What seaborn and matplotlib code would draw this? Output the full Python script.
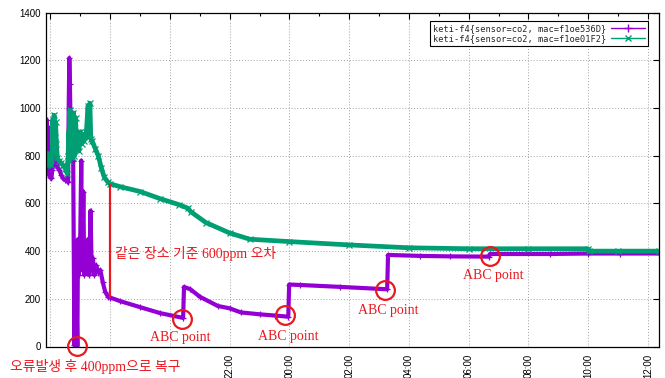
import pandas as pd
import matplotlib
matplotlib.use("Agg")
import matplotlib.pyplot as plt
import seaborn as sns
from matplotlib.lines import Line2D
from matplotlib.ticker import MultipleLocator, FuncFormatter

# Readings (time in hours from midnight of day 1, co2 in ppm)
purple_label = "keti-f4{sensor=co2, mac=f1oe536D}"
purple_time = [15.86, 15.88, 15.90, 15.92, 15.94, 15.96, 15.99, 16.03, 16.06, 16.09,
               16.11, 16.14, 16.17, 16.20, 16.24, 16.30, 16.36, 16.42, 16.48, 16.55,
               16.59, 16.61, 16.63, 16.65, 16.67, 16.71, 16.76, 16.80, 16.84, 16.90,
               16.92, 16.95, 16.99, 17.03, 17.06, 17.10, 17.13, 17.18, 17.22, 17.26,
               17.30, 17.34, 17.38, 17.42, 17.47, 17.53, 17.60, 17.67, 17.75, 17.83,
               17.93, 18.00, 18.34, 19.00, 19.67, 20.44, 20.47, 20.68, 21.01, 21.60,
               22.00, 22.37, 23.00, 23.50, 23.96, 23.99, 24.36, 25.70, 27.27, 27.30,
               28.37, 29.38, 30.68, 30.71, 32.72, 34.00, 35.06, 36.37]
purple_co2 = [800, 950, 760, 920, 740, 720, 710, 705, 740, 870,
              760, 800, 760, 780, 750, 740, 720, 705, 700, 695,
              690, 1000, 1210, 1100, 950, 980, 780, 5, 420, 0,
              450, 300, 400, 780, 320, 650, 300, 420, 310, 450,
              300, 570, 320, 370, 300, 340, 310, 320, 270, 230,
              208, 205, 190, 165, 140, 120, 250, 240, 208, 170,
              160, 143, 135, 130, 125, 260, 258, 250, 240, 384,
              380, 378, 377, 388, 388, 390, 390, 390]

green_label = "keti-f4{sensor=co2, mac=f1oe01F2}"
green_time = [15.86, 15.88, 15.91, 15.94, 15.98, 16.02, 16.06, 16.08, 16.10, 16.12,
              16.14, 16.17, 16.20, 16.23, 16.28, 16.35, 16.42, 16.50, 16.56, 16.59,
              16.61, 16.63, 16.65, 16.68, 16.71, 16.74, 16.77, 16.80, 16.84, 16.87,
              16.91, 16.95, 17.00, 17.04, 17.08, 17.12, 17.20, 17.26, 17.28, 17.32,
              17.35, 17.40, 17.50, 17.60, 17.70, 17.80, 17.92, 18.00, 18.34, 19.00,
              19.67, 20.30, 20.60, 20.70, 21.20, 22.00, 22.67, 24.00, 26.00, 28.00,
              30.00, 32.00, 33.99, 34.03, 35.00, 36.37]
green_co2 = [800, 760, 810, 770, 800, 760, 800, 950, 850, 970,
             880, 940, 850, 790, 780, 770, 760, 745, 725, 800,
             900, 780, 990, 800, 970, 790, 980, 800, 960, 850,
             900, 820, 900, 850, 890, 860, 900, 1010, 880, 1020,
             870, 860, 830, 800, 750, 710, 690, 682, 670, 650,
             620, 595, 580, 565, 520, 476, 450, 440, 426, 414,
             410, 410, 410, 400, 400, 400]

# Annotations
gap_time, gap_low, gap_high = 18.0, 205, 680
abc_time = [20.41, 23.86, 27.20, 30.71]
abc_co2 = [115, 132, 237, 380]
abc_text_time = [20.36, 23.96, 27.32, 30.83]
abc_text_co2 = [36, 40, 149, 296]
error_time, error_co2 = 16.90, 2
first_labelled_hour = 22  # earlier hour labels sit under the annotation text

purple = "#9400d3"
green = "#009e73"
red = "#e8191f"

df_p = pd.DataFrame({"time": purple_time, "co2": purple_co2})
df_g = pd.DataFrame({"time": green_time, "co2": green_co2})

sns.set_theme(style="white", context="paper")
plt.rcParams["font.family"] = ["Liberation Sans", "DejaVu Sans"]

fig, ax = plt.subplots(figsize=(6.65, 3.78), dpi=100)
fig.subplots_adjust(left=46 / 665, right=659 / 665, top=1 - 12.7 / 378, bottom=1 - 346.5 / 378)

sns.lineplot(data=df_p, x="time", y="co2", ax=ax, color=purple, linewidth=3.0,
             marker="+", markersize=5, markeredgewidth=0.9, markeredgecolor=purple,
             estimator=None, sort=False, legend=False)
sns.lineplot(data=df_g, x="time", y="co2", ax=ax, color=green, linewidth=3.4,
             marker="x", markersize=4, markeredgewidth=0.9, markeredgecolor=green,
             estimator=None, sort=False, legend=False)

ax.set_xlim(15.85, 36.37)
ax.set_ylim(0, 1400)
ax.set_xlabel("")
ax.set_ylabel("")


def hour_label(h, _):
    if h < first_labelled_hour - 0.5:
        return ""
    return f"{int(round(h)) % 24:02d}:00"


ax.xaxis.set_major_locator(MultipleLocator(2))
ax.xaxis.set_minor_locator(MultipleLocator(1))
ax.yaxis.set_major_locator(MultipleLocator(200))
ax.xaxis.set_major_formatter(FuncFormatter(hour_label))
ax.tick_params(which="both", direction="in", top=True, right=True, colors="black",
               labelsize=7)
ax.tick_params(which="major", length=4, width=0.8)
ax.tick_params(which="minor", length=2, width=0.8)
ax.tick_params(axis="x", labelrotation=90, pad=5)
ax.grid(True, which="major", linestyle=(0, (1, 2)), color="#a0a0a0", linewidth=0.7)
for s in ax.spines.values():
    s.set_color("black")
    s.set_linewidth(0.9)

# legend, gnuplot style: sample right of the text
handles = [Line2D([], [], color=purple, lw=1, marker="+", ms=6, mew=1),
           Line2D([], [], color=green, lw=1, marker="x", ms=4, mew=1)]
leg = ax.legend(handles, [purple_label, green_label], loc="upper right",
                bbox_to_anchor=(0.989, 0.987), markerfirst=False, handlelength=4,
                fancybox=False, framealpha=1, edgecolor="black", borderpad=0.3,
                labelspacing=0.15, handletextpad=0.6,
                prop={"family": "DejaVu Sans Mono", "size": 6.2})
leg.get_frame().set_linewidth(0.8)

# annotations
kfont = ["Liberation Serif", "Noto Sans CJK KR"]
ax.vlines(gap_time, gap_low, gap_high, color=red, lw=1.6, zorder=5)
ax.text(18.17, 388, "같은 장소 기준 600ppm 오차", color=red, fontsize=10,
        family=kfont, ha="left", va="center", zorder=6)
ax.plot(abc_time + [error_time], abc_co2 + [error_co2], linestyle="none", marker="o",
        ms=13.5, mfc="none", mec=red, mew=1.6, zorder=6, clip_on=False)
for t, c in zip(abc_text_time, abc_text_co2):
    ax.text(t, c, "ABC point", color=red, fontsize=10, family=kfont,
            ha="center", va="center", zorder=6)
fig.text(10 / 665, 1 - 366 / 378, "오류발생 후 400ppm으로 복구", color=red, fontsize=10,
         family=kfont, ha="left", va="center", zorder=10)

fig.savefig("out.png", dpi=100)
